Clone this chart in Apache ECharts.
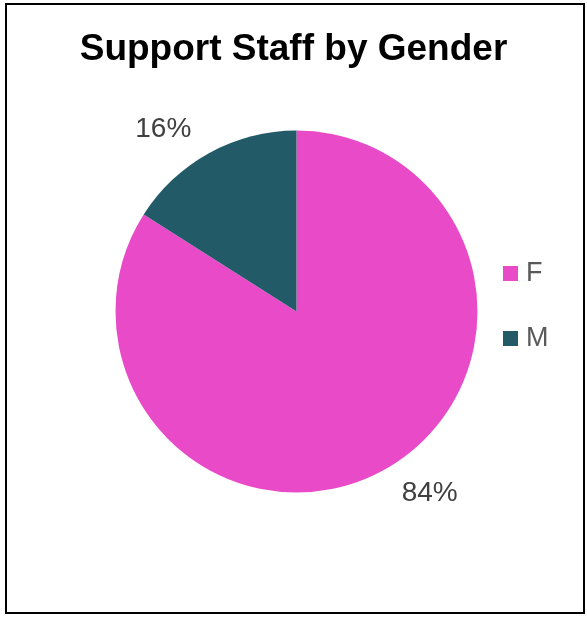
<!DOCTYPE html>
<html>
<head>
<meta charset="utf-8">
<style>
  html, body { margin: 0; padding: 0; background: #fff; }
  #chart { width: 587px; height: 617px; }
</style>
<script src="https://cdn.jsdelivr.net/npm/echarts@6/dist/echarts.min.js"></script>
</head>
<body>
<div id="chart"></div>
<script>
// Gender split of support staff (percent)
const categories = ['F', 'M'];
const shares = [84, 16];
const sliceColors = ['#E84AC8', '#235A68'];

const chart = echarts.init(document.getElementById('chart'), null, { renderer: 'canvas' });
const fontFamily = '"Liberation Sans", Arial, sans-serif';

chart.setOption({
  animation: false,
  backgroundColor: '#ffffff',
  title: {
    text: 'Support Staff by Gender',
    left: 'center',
    top: 26,
    textStyle: { fontFamily, fontSize: 37, fontWeight: 'bold', color: '#000000' }
  },
  legend: {
    orient: 'vertical',
    left: 498,
    top: 255,
    icon: 'rect',
    itemWidth: 15,
    itemHeight: 15,
    itemGap: 38,
    selectedMode: false,
    data: categories,
    textStyle: { fontFamily, fontSize: 27, color: '#595959', padding: [0, 0, 0, 3] }
  },
  graphic: [{
    type: 'rect',
    shape: { x: 6, y: 4, width: 578, height: 609 },
    style: { fill: 'none', stroke: '#000000', lineWidth: 2 },
    silent: true
  }],
  series: [{
    type: 'pie',
    center: [296.5, 311.5],
    radius: 181,
    startAngle: 90,
    clockwise: true,
    avoidLabelOverlap: false,
    label: {
      show: true,
      position: 'outside',
      formatter: '{d}%',
      fontFamily,
      fontSize: 28,
      color: '#404040'
    },
    labelLine: { show: false, length: 27, length2: 0 },
    emphasis: { disabled: true },
    data: categories.map((name, i) => ({
      name,
      value: shares[i],
      itemStyle: { color: sliceColors[i] }
    }))
  }]
});
</script>
</body>
</html>
